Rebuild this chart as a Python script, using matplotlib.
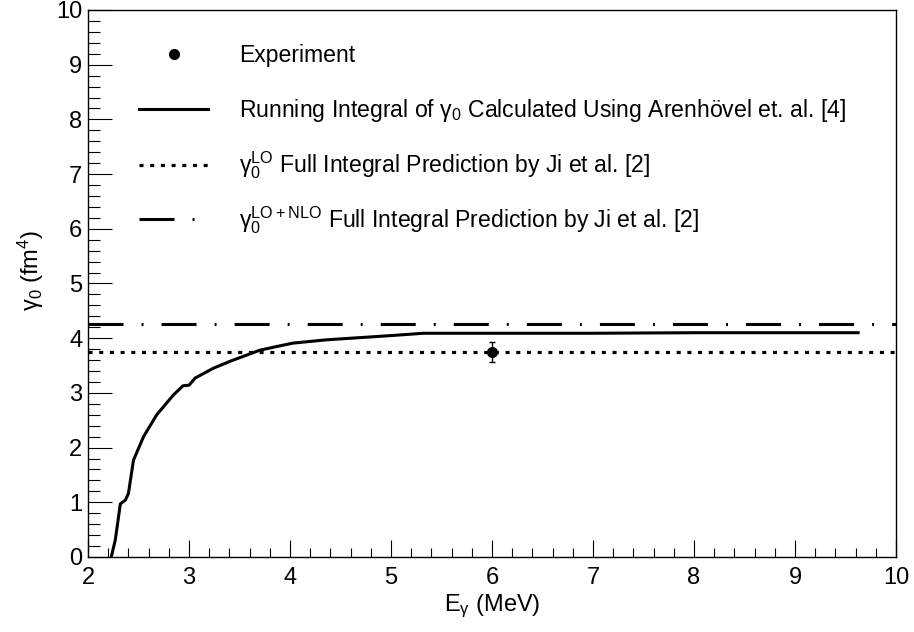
import matplotlib
matplotlib.use("Agg")
import matplotlib.pyplot as plt
from matplotlib.lines import Line2D
from matplotlib.ticker import MultipleLocator

plt.rcParams['font.family'] = ['Liberation Sans', 'DejaVu Sans']
plt.rcParams['mathtext.default'] = 'regular'
plt.rcParams['lines.scale_dashes'] = False

# Running integral of gamma_0 (Arenhoevel)
energy = [2.23, 2.27, 2.32, 2.37, 2.40, 2.45, 2.55, 2.68, 2.845, 2.94, 3.00, 3.06,
          3.24, 3.41, 3.57, 3.70, 3.90, 4.03, 4.36, 4.69, 5.02, 5.32, 6.0, 7.0,
          8.0, 9.0, 9.64]
gamma0 = [0.0, 0.31, 0.97, 1.04, 1.16, 1.77, 2.20, 2.60, 2.96, 3.13, 3.14, 3.27,
          3.45, 3.58, 3.69, 3.78, 3.86, 3.91, 3.97, 4.01, 4.05, 4.09, 4.09, 4.09,
          4.10, 4.10, 4.10]

# Experiment
exp_E = [6.0]
exp_val = [3.75]
exp_err = [0.18]

# Ji et al. predictions
lo_value = 3.75
lonlo_value = 4.26

labels = ["Experiment",
          "Running Integral of γ$_0$ Calculated Using Arenhövel et. al. [4]",
          "γ$_0^{LO}$ Full Integral Prediction by Ji et al. [2]",
          "γ$_0^{LO+NLO}$ Full Integral Prediction by Ji et al. [2]"]

fig = plt.figure(figsize=(9.14, 6.32), dpi=100)
ax = fig.add_axes([0.0963, 0.1187, 0.884, 0.8655])

dotted = (0, (2.9, 4.8))
dashdot = (0, (25.2, 13, 1.4, 13))

ax.axhline(lo_value, color='black', lw=2.3, linestyle=dotted, dash_capstyle='butt')
ax.axhline(lonlo_value, color='black', lw=2.2, linestyle=dashdot, dash_capstyle='butt')
ax.plot(energy, gamma0, color='black', lw=2.2, solid_capstyle='butt')
ax.errorbar(exp_E, exp_val, yerr=exp_err, fmt='o', color='black', ms=7,
            elinewidth=1.0, capsize=2.5, capthick=1.0)

ax.set_xlim(2, 10)
ax.set_ylim(0, 10)
ax.xaxis.set_major_locator(MultipleLocator(1))
ax.xaxis.set_minor_locator(MultipleLocator(0.2))
ax.yaxis.set_major_locator(MultipleLocator(1))
ax.yaxis.set_minor_locator(MultipleLocator(0.2))
ax.tick_params(axis='both', which='both', direction='in', width=0.8, labelsize=17)
ax.tick_params(axis='x', which='major', length=12)
ax.tick_params(axis='x', which='minor', length=6.5)
ax.tick_params(axis='y', which='major', length=17)
ax.tick_params(axis='y', which='minor', length=8.6)
ax.tick_params(axis='x', pad=7)
ax.tick_params(axis='y', pad=4)
for sp in ax.spines.values():
    sp.set_linewidth(1.0)

ax.set_xlabel("E$_γ$ (MeV)", fontsize=17, labelpad=3)
ax.set_ylabel("γ$_0$ (fm$^4$)", fontsize=17)
ax.yaxis.set_label_coords(-0.052, 0.523)

handles = [Line2D([], [], marker='o', color='black', ms=7, linestyle='none'),
           Line2D([], [], color='black', lw=2.2),
           Line2D([], [], color='black', lw=2.3, linestyle=dotted, dash_capstyle='butt'),
           Line2D([], [], color='black', lw=2.2, linestyle=dashdot, dash_capstyle='butt')]

# one legend row per entry so rows are evenly spaced
for i, (h, lab) in enumerate(zip(handles, labels)):
    leg = ax.legend([h], [lab], loc='center left',
                    bbox_to_anchor=(0.063, 0.916 - 0.1 * i),
                    frameon=False, fontsize=16.6, handlelength=3.0,
                    handletextpad=1.35, borderpad=0, borderaxespad=0)
    if i < len(handles) - 1:
        ax.add_artist(leg)

fig.savefig("out.png", dpi=100)
